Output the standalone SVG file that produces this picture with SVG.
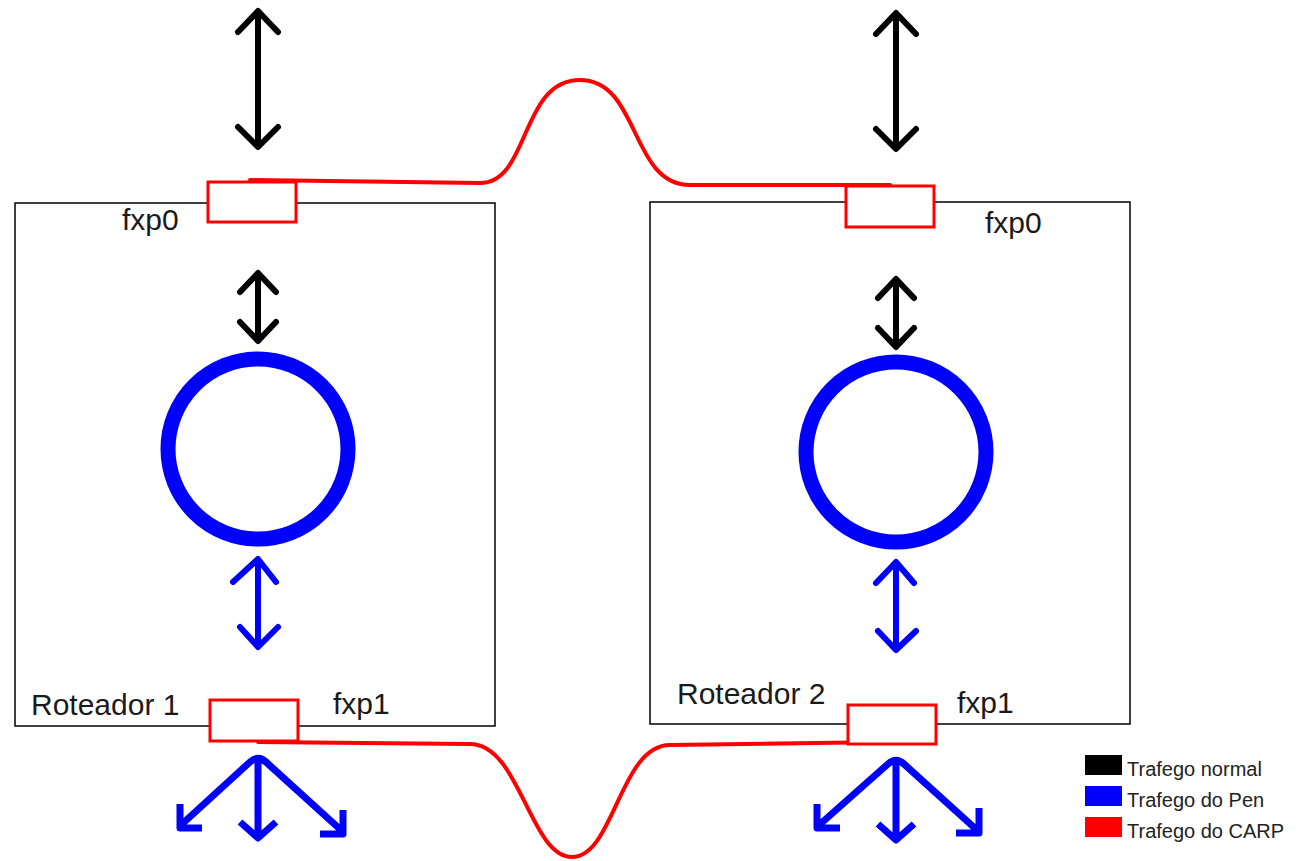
<svg xmlns="http://www.w3.org/2000/svg" width="1303" height="861" viewBox="0 0 1303 861">
<style>
.box{fill:#fff;stroke:#000;stroke-width:1.5}
.port{fill:#fff;stroke:#f00;stroke-width:3}
.lbl{font-family:"Liberation Sans",Arial,sans-serif;font-size:30px;fill:#1a1a1a}
.leg{font-family:"Liberation Sans",Arial,sans-serif;font-size:20px;fill:#222}
.blk{fill:none;stroke:#000;stroke-width:6;stroke-linecap:round;stroke-linejoin:round}
.blu{fill:none;stroke:#00f;stroke-width:6;stroke-linecap:round;stroke-linejoin:round}
.blu2{fill:none;stroke:#00f;stroke-width:7;stroke-linecap:butt;stroke-linejoin:round}
.red{fill:none;stroke:#f00;stroke-width:4;stroke-linecap:round}
.ring{fill:none;stroke:#00f;stroke-width:15}
</style>
<g id="router1">
<rect class="box" x="15" y="203" width="480" height="523"/>
<text class="lbl" x="31" y="715">Roteador 1</text>
</g>
<g id="router2">
<rect class="box" x="650" y="202" width="480" height="522"/>
<text class="lbl" x="677" y="704">Roteador 2</text>
</g>
<g id="carp-links">
<path class="red" d="M250,180 L480,183 C530,183 520,80 580,80 C640,80 630,185 690,185 L890,185"/>
<path class="red" d="M258,742 L470,744 C520,744 530,857 572,857 C614,857 620,745 670,745 L888,742"/>
</g>
<g id="r1-fxp0">
<rect class="port" x="208" y="182" width="88" height="40"/>
<text class="lbl" x="122" y="230">fxp0</text>
</g>
<g id="r1-fxp1">
<rect class="port" x="210" y="700" width="88" height="41"/>
<text class="lbl" x="333" y="714">fxp1</text>
</g>
<g id="r2-fxp0">
<rect class="port" x="846" y="186" width="88" height="41"/>
<text class="lbl" x="985" y="233">fxp0</text>
</g>
<g id="r2-fxp1">
<rect class="port" x="848" y="705" width="88" height="39"/>
<text class="lbl" x="957" y="713">fxp1</text>
</g>
<g id="r1-pen">
<circle class="ring" cx="258" cy="449" r="90"/>
</g>
<g id="r2-pen">
<circle class="ring" cx="896" cy="452" r="90"/>
</g>
<g id="connectors">
<path class="blk" d="M258,12 V146 M238,32 L258,11 L278,32 M238,127 L258,147 L278,127"/>
<path class="blk" d="M896,14 V148 M876,34 L896,13 L916,34 M876,129 L896,149 L916,129"/>
<path class="blk" d="M258,275 V339 M240,292 L258,273 L276,292 M240,322 L258,341 L276,322"/>
<path class="blk" d="M896,281 V345 M878,298 L896,279 L914,298 M878,328 L896,347 L914,328"/>
<path class="blu" d="M258,562 V645 M233,582 L258,559 L276,582 M240,627 L258,647 L278,627"/>
<path class="blu" d="M896,564 V649 M876,583 L896,562 L914,583 M878,631 L896,650 L916,631"/>
<path class="blu2" d="M181,825 L250,762 Q258,755 266,762 L342,831 M258,758 V837 M240,822 L258,838 L276,822 M180,804 V828 H202 M343,810 V834 H320"/>
<path class="blu2" d="M818,826 L888,764 Q896,757 904,764 L978,831 M896,760 V839 M878,824 L896,840 L914,824 M817,804 V828 H840 M979,808 V833 H956"/>
</g>
<g id="legend">
<rect x="1085" y="755" width="37" height="20" fill="#000"/>
<rect x="1085" y="786" width="37" height="20" fill="#00f"/>
<rect x="1085" y="817" width="37" height="20" fill="#f00"/>
<text class="leg" x="1127" y="776">Trafego normal</text>
<text class="leg" x="1127" y="807">Trafego do Pen</text>
<text class="leg" x="1127" y="838">Trafego do CARP</text>
</g>
</svg>
